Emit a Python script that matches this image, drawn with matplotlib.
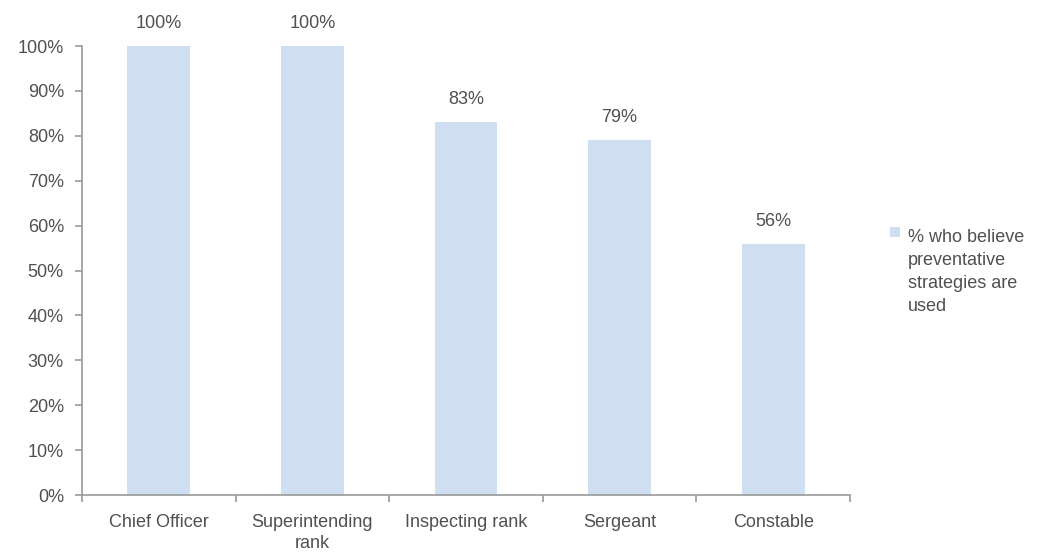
import matplotlib
matplotlib.use("Agg")
import matplotlib.pyplot as plt
from matplotlib.ticker import MultipleLocator, FuncFormatter, FixedLocator, NullFormatter
from matplotlib.patches import Rectangle

categories = ["Chief Officer", "Superintending\nrank", "Inspecting rank", "Sergeant", "Constable"]
values = [100, 100, 83, 79, 56]
series_name = "% who believe\npreventative\nstrategies are\nused"

bar_color = "#cfdff1"
axis_color = "#9a9a9a"
text_color = "#505050"

plt.rcParams["font.family"] = ["Liberation Sans", "DejaVu Sans"]

fig = plt.figure(figsize=(10.55, 5.57), dpi=100)
ax = fig.add_axes([0.0777, 0.1113, 0.7280, 0.8061])

x = list(range(len(categories)))
ax.bar(x, values, width=0.41, color=bar_color, zorder=2)

for xi, v in zip(x, values):
    ax.annotate(f"{v}%", (xi, v), xytext=(0, 10), textcoords="offset points",
                ha="center", va="bottom", fontsize=13, color=text_color)

ax.set_xlim(-0.5, len(categories) - 0.5)
ax.set_ylim(0, 100)
ax.yaxis.set_major_locator(MultipleLocator(10))
ax.yaxis.set_major_formatter(FuncFormatter(lambda v, p: f"{v:.0f}%"))

ax.set_xticks(x)
ax.set_xticklabels(categories, fontsize=13, color=text_color, linespacing=1.3)
ax.tick_params(axis="x", which="major", length=0, pad=14)
ax.xaxis.set_minor_locator(FixedLocator([i - 0.5 for i in range(len(categories) + 1)]))
ax.xaxis.set_minor_formatter(NullFormatter())
ax.tick_params(axis="x", which="minor", length=5, color=axis_color, width=1.2)
ax.tick_params(axis="y", length=5, color=axis_color, width=1.2, labelsize=13,
               labelcolor=text_color, pad=8)

for side in ("top", "right"):
    ax.spines[side].set_visible(False)
for side in ("left", "bottom"):
    ax.spines[side].set_color(axis_color)
    ax.spines[side].set_linewidth(1.2)

# legend: swatch aligned with the first line of the wrapped label
fig.patches.append(Rectangle((0.8436, 0.575), 0.0095, 0.018, transform=fig.transFigure,
                             facecolor=bar_color, edgecolor="none"))
fig.text(0.8606, 0.588, series_name, ha="left", va="top", fontsize=13,
         color=text_color, linespacing=1.45)

fig.savefig("out.png", dpi=100)
